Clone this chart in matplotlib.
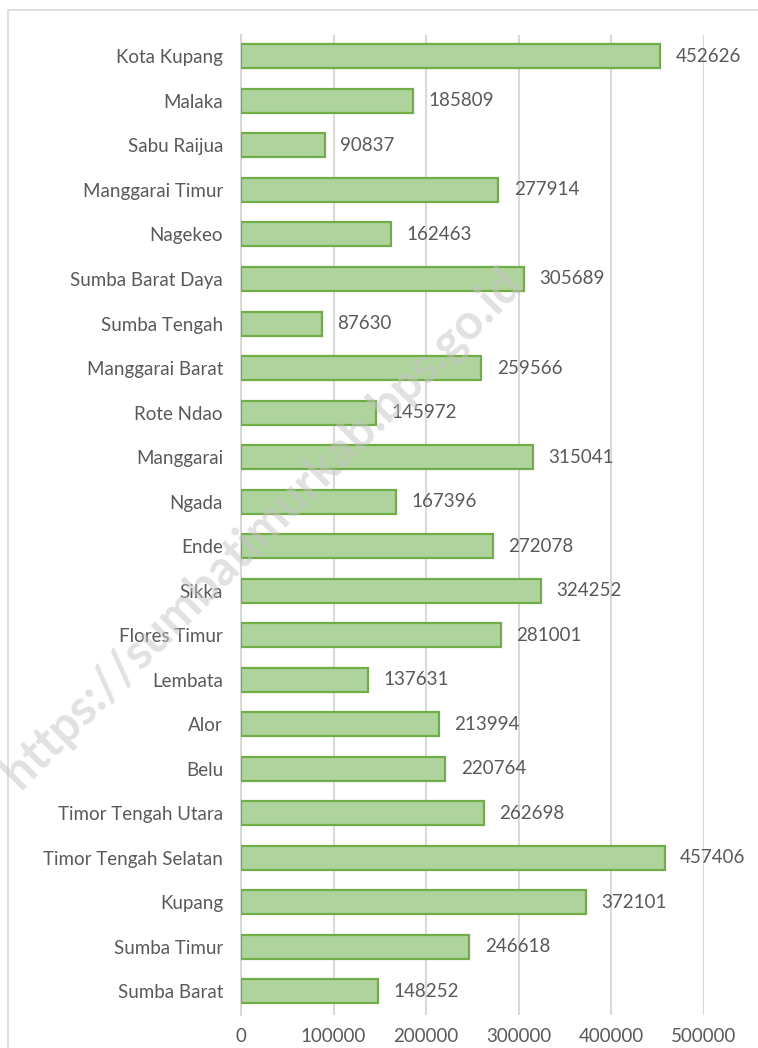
import numpy as np
import matplotlib
matplotlib.use("Agg")
import matplotlib.pyplot as plt
from matplotlib.colors import LinearSegmentedColormap
from matplotlib.patches import Rectangle

# Data (bottom to top)
regions = ["Sumba Barat", "Sumba Timur", "Kupang", "Timor Tengah Selatan",
           "Timor Tengah Utara", "Belu", "Alor", "Lembata", "Flores Timur",
           "Sikka", "Ende", "Ngada", "Manggarai", "Rote Ndao", "Manggarai Barat",
           "Sumba Tengah", "Sumba Barat Daya", "Nagekeo", "Manggarai Timur",
           "Sabu Raijua", "Malaka", "Kota Kupang"]
values = [148252, 246618, 372101, 457406, 262698, 220764, 213994, 137631,
          281001, 324252, 272078, 167396, 315041, 145972, 259566, 87630,
          305689, 162463, 277914, 90837, 185809, 452626]
xticks = [0, 100000, 200000, 300000, 400000, 500000]

plt.rcParams['font.family'] = ['Lato', 'DejaVu Sans']
txt = '#595959'
fs = 13.5

fig = plt.figure(figsize=(7.58, 10.48), dpi=100)
ax = fig.add_axes([241/758, 1-1015/1048, (704-241)/758, (1015-35)/1048])

# chart area border
fig.patches.append(Rectangle((8/758, -0.05), 1.0, 1-10/1048+0.05, transform=fig.transFigure,
                             fill=False, edgecolor='#d9d9d9', lw=1.2))

y = np.arange(len(regions))
bars = ax.barh(y, values, height=0.54, color='#aed39d', edgecolor='#70ad47',
               linewidth=1.6, zorder=3)

# light gradient inside each bar
cmap = LinearSegmentedColormap.from_list('g', ['#a1c98b', '#bcdcad'])
grad = np.linspace(0, 1, 64).reshape(-1, 1)
for b in bars:
    x0, y0 = b.get_x(), b.get_y()
    im = ax.imshow(grad, extent=[x0, x0 + b.get_width(), y0, y0 + b.get_height()],
                   origin='lower', cmap=cmap, aspect='auto', zorder=2.9)
    im.set_clip_path(b)

for yi, v in zip(y, values):
    ax.text(v + 16500, yi, str(v), va='center', ha='left', fontsize=fs, color=txt, zorder=4)

ax.set_xlim(0, 500000)
ax.set_ylim(-0.53, 21.48)
ax.set_xticks(xticks)
ax.set_xticklabels([str(t) for t in xticks])
ax.set_yticks(y)
ax.set_yticklabels(regions)
ax.tick_params(axis='both', length=0, colors=txt, labelsize=fs)
ax.tick_params(axis='y', pad=13)
ax.tick_params(axis='x', pad=9)
ax.grid(axis='x', color='#d9d9d9', linewidth=1.5, zorder=0)
ax.set_axisbelow(True)
for s in ['top', 'right', 'bottom']:
    ax.spines[s].set_visible(False)
ax.spines['left'].set_color('#d9d9d9')
ax.spines['left'].set_linewidth(1.5)

# watermark
fig.text(262/758, 1-528/1048, "https://sumbatimurkab.bps.go.id", rotation=45,
         ha='center', va='center', fontsize=35, fontweight='bold', color='#c4c4c4',
         alpha=0.5, zorder=10)

fig.savefig('out.png', dpi=100)
